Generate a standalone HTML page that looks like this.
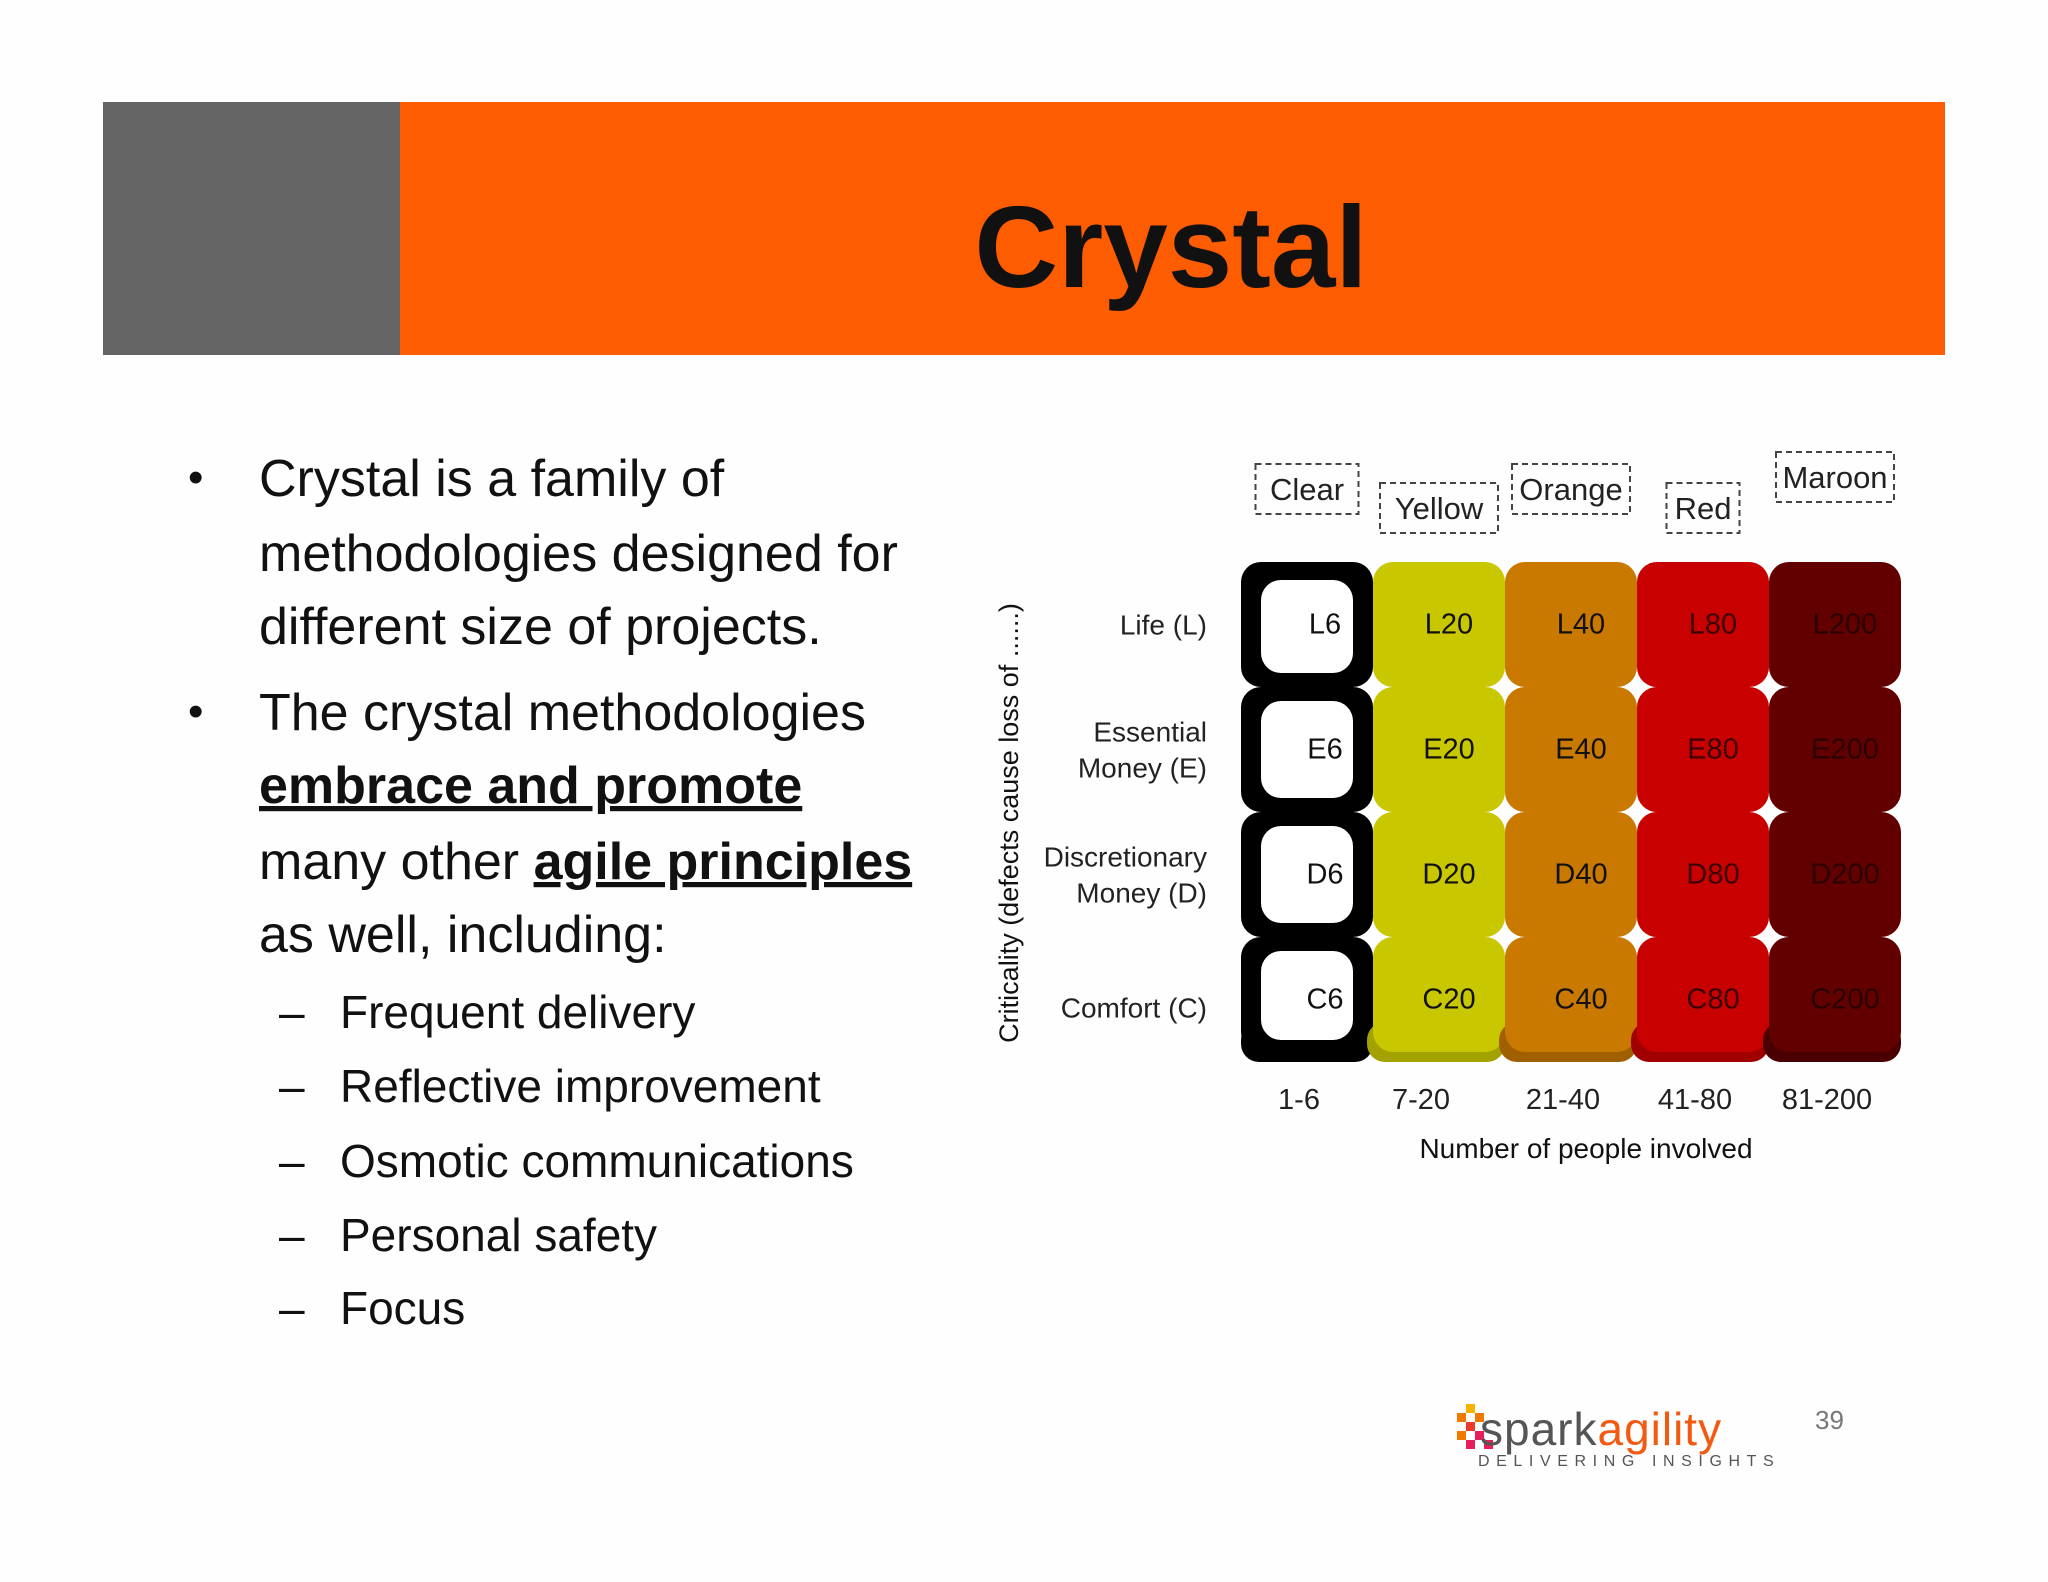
<!DOCTYPE html>
<html><head><meta charset="utf-8"><style>
html,body{margin:0;padding:0;background:#fefefe;}
svg{display:block;font-family:"Liberation Sans",sans-serif;}
</style></head><body>
<svg id="page" width="2048" height="1582" viewBox="0 0 2048 1582">
<rect x="0" y="0" width="2048" height="1582" fill="#fefefe"/>
<rect x="103" y="102" width="297" height="253" fill="#646464"/>
<rect x="400" y="102" width="1545" height="253" fill="#fe5c00"/>
<text x="1171" y="287" text-anchor="middle" font-size="116" font-weight="bold" fill="#111">Crystal</text>

<g font-size="52" fill="#111">
<text x="188" y="492" font-size="44">•</text>
<text x="259" y="496">Crystal is a family of</text>
<text x="259" y="571">methodologies designed for</text>
<text x="259" y="644">different size of projects.</text>
<text x="188" y="726" font-size="44">•</text>
<text x="259" y="730">The crystal methodologies</text>
<text x="259" y="803" font-weight="bold" text-decoration="underline">embrace and promote</text>
<text x="259" y="879">many other <tspan font-weight="bold" text-decoration="underline">agile principles</tspan></text>
<text x="259" y="952">as well, including:</text>
</g>
<g font-size="46" fill="#111">
<text x="279" y="1028">–<tspan x="340">Frequent delivery</tspan></text>
<text x="279" y="1102">–<tspan x="340">Reflective improvement</tspan></text>
<text x="279" y="1177">–<tspan x="340">Osmotic communications</tspan></text>
<text x="279" y="1251">–<tspan x="340">Personal safety</tspan></text>
<text x="279" y="1324">–<tspan x="340">Focus</tspan></text>
</g>

<g id="chart"></g>

<g>
<rect x="1466" y="1404" width="9" height="9" fill="#f6b400"/>
<rect x="1457" y="1413" width="9" height="9" fill="#f07a00"/>
<rect x="1475" y="1413" width="9" height="9" fill="#f07a00"/>
<rect x="1466" y="1422" width="9" height="9" fill="#ee3a2a"/>
<rect x="1457" y="1431" width="9" height="9" fill="#f07a00"/>
<rect x="1475" y="1431" width="9" height="9" fill="#e81e5a"/>
<rect x="1466" y="1440" width="9" height="9" fill="#e81e5a"/>
<rect x="1484" y="1440" width="9" height="9" fill="#e81e5a"/>
<text x="1480" y="1445" font-size="46" fill="#555" letter-spacing="1">spark<tspan fill="#f25a12">agility</tspan></text>
<text x="1478" y="1466" font-size="16" fill="#555" letter-spacing="6.6">DELIVERING INSIGHTS</text>
</g>
<text x="1815" y="1429" font-size="26" fill="#777">39</text>
</svg>
<script>
const columns = ['Clear','Yellow','Orange','Red','Maroon'];
const sizeTicks = ['1-6','7-20','21-40','41-80','81-200'];
const sizeNums = ['6','20','40','80','200'];
const rowCodes = ['L','E','D','C'];
const rowLabels = [['Life (L)'],['Essential','Money (E)'],['Discretionary','Money (D)'],['Comfort (C)']];
const colColors = ['#000000','#c9c800','#c97800','#c80000','#620000'];
const shadeColors = ['#000000','#a3a200','#a06000','#a00000','#4a0000'];
const textColors = ['#111','#111','#111','#3a0000','#2a0000'];

const NS='http://www.w3.org/2000/svg';
const g=document.getElementById('chart');
const X0=1241, CW=132, Y0=562, RH=125;
function xPos(i){return X0+i*CW;}
function yPos(j){return Y0+j*RH;}
function mk(tag,attrs,parent){const e=document.createElementNS(NS,tag);for(const k in attrs)e.setAttribute(k,attrs[k]);(parent||g).appendChild(e);return e;}

// legend boxes
const legY=[464,483,464,483,452];
columns.forEach((c,i)=>{
  const w=c.length*15+28, cx=xPos(i)+CW/2;
  const r=mk('rect',{x:cx-w/2,y:legY[i],width:w,height:50,fill:'none',stroke:'#444','stroke-width':2,'stroke-dasharray':'6,4'});
  
  
  const t=mk('text',{x:cx,y:legY[i]+36,'text-anchor':'middle','font-size':31,fill:'#222'});
  t.textContent=c;
  
  
});
// cells
columns.forEach((c,i)=>{
  const x=xPos(i);
  const shade=mk('rect',{x:x-(i===0?0:6),y:yPos(rowCodes.length)-40,width:CW+(i===0?0:6),height:40,rx:18,fill:shadeColors[i]});
  
  
  rowCodes.forEach((r,j)=>{
    const y=yPos(j);
    const cell=mk('rect',{x:x,y:y,width:CW,height:RH-(j===rowCodes.length-1?10:0),rx:20,fill:colColors[i]});
    
    
    if(i===0){
      const inner=mk('rect',{x:x+20,y:y+6+(j===0?12:8),width:CW-40,height:RH-(j===0?32:28)-(j===rowCodes.length-1?8:0),rx:20,fill:'#ffffff'});
      
      
    }
    const t=mk('text',{x:x+CW/2+(i===0?18:10),y:y+RH/2+9,'text-anchor':'middle','font-size':29,fill:textColors[i]});
    t.textContent=r+sizeNums[i];
    
    
  });
});
// row labels
rowLabels.forEach((lines,j)=>{
  const cy=yPos(j)+RH/2+(j===3?8:0);
  lines.forEach((ln,k)=>{
    const t=mk('text',{x:1207,y:cy+10+(k-(lines.length-1)/2)*36,'text-anchor':'end','font-size':28,fill:'#222'});
    t.textContent=ln;
    
    
  });
});
// x ticks
sizeTicks.forEach((s,i)=>{
  const t=mk('text',{x:xPos(i)+CW/2-8+(i===1?-10:0),y:1109,'text-anchor':'middle','font-size':29,fill:'#222'});
  t.textContent=s;
  
  
});
const xt=mk('text',{x:1586,y:1158,'text-anchor':'middle','font-size':28,fill:'#111'});
xt.textContent='Number of people involved';


const yt=mk('text',{x:0,y:0,'text-anchor':'middle','font-size':27,fill:'#111',transform:'translate(1018,823) rotate(-90)'});
yt.textContent='Criticality (defects cause loss of ......)';


</script>
</body></html>
